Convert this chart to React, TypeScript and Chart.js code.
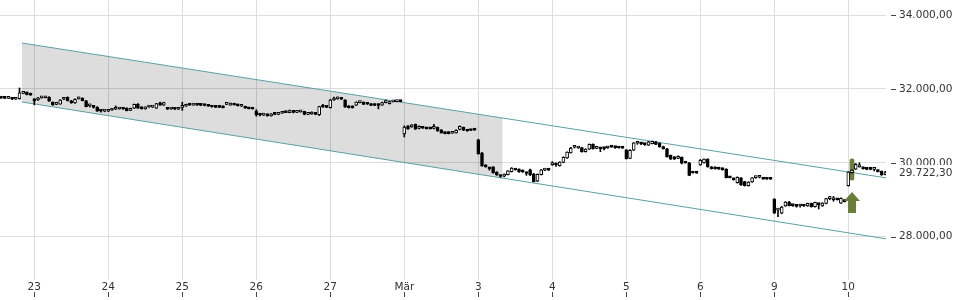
import React, { useEffect, useRef } from 'react';
import { Chart, registerables } from 'chart.js';

Chart.register(...registerables);

// ---- axis labels ----
const dayLabels = ['23', '24', '25', '26', '27', 'Mär', '3', '4', '5', '6', '9', '10'];
const dayStartIndex = [9, 29, 49, 69, 89, 109, 129, 149, 169, 189, 209, 229];
const priceTicks = [28000, 30000, 32000, 34000];
const lastPrice = 29722.3;

// ---- candles [open, high, low, close] ----
const feb20 = [
  [31755, 31765, 31745, 31750], [31760, 31765, 31740, 31745], [31745, 31790, 31740, 31755],
  [31770, 31775, 31710, 31720], [31720, 31755, 31715, 31740], [31735, 32025, 31720, 31895],
  [31880, 31925, 31870, 31915], [31915, 31920, 31835, 31845], [31870, 31885, 31825, 31830],
];
const feb23 = [
  [31730, 31740, 31570, 31680], [31700, 31770, 31690, 31755], [31755, 31790, 31745, 31760],
  [31760, 31800, 31755, 31770], [31775, 31790, 31660, 31670], [31640, 31650, 31555, 31565],
  [31580, 31610, 31570, 31590], [31590, 31710, 31585, 31700], [31720, 31760, 31710, 31740],
  [31770, 31785, 31670, 31680], [31680, 31690, 31610, 31620], [31620, 31730, 31610, 31720],
  [31730, 31780, 31725, 31745], [31750, 31760, 31675, 31680], [31680, 31690, 31510, 31520],
  [31540, 31590, 31510, 31560], [31520, 31530, 31480, 31500], [31510, 31520, 31390, 31400],
  [31410, 31420, 31370, 31395], [31400, 31430, 31380, 31420],
];
const feb24 = [
  [31395, 31445, 31385, 31430], [31430, 31450, 31420, 31445], [31450, 31540, 31440, 31460],
  [31455, 31475, 31450, 31465], [31465, 31470, 31445, 31455], [31480, 31490, 31405, 31410],
  [31420, 31480, 31410, 31475], [31480, 31590, 31470, 31580], [31590, 31600, 31475, 31480],
  [31510, 31520, 31455, 31460], [31460, 31515, 31450, 31510], [31510, 31545, 31500, 31520],
  [31505, 31525, 31495, 31515], [31480, 31610, 31470, 31600], [31620, 31640, 31555, 31560],
  [31560, 31640, 31550, 31630], [31480, 31490, 31440, 31450], [31455, 31470, 31445, 31460],
  [31460, 31470, 31440, 31450], [31450, 31465, 31440, 31455],
];
const feb25 = [
  [31500, 31640, 31420, 31520], [31530, 31590, 31525, 31540], [31565, 31575, 31555, 31560],
  [31560, 31575, 31555, 31565], [31565, 31570, 31550, 31560], [31560, 31565, 31545, 31555],
  [31555, 31560, 31540, 31550], [31560, 31580, 31525, 31530], [31540, 31550, 31505, 31510],
  [31520, 31550, 31495, 31500], [31520, 31525, 31495, 31500], [31510, 31540, 31485, 31490],
  [31580, 31590, 31575, 31585], [31560, 31620, 31555, 31570], [31570, 31610, 31560, 31565],
  [31550, 31590, 31535, 31540], [31530, 31560, 31525, 31540], [31520, 31530, 31475, 31480],
  [31470, 31480, 31455, 31460], [31460, 31470, 31450, 31455],
];
const feb26 = [
  [31400, 31440, 31260, 31300], [31300, 31320, 31270, 31290], [31290, 31340, 31280, 31300],
  [31320, 31330, 31260, 31270], [31270, 31330, 31260, 31320], [31320, 31330, 31300, 31310],
  [31310, 31330, 31300, 31325], [31340, 31370, 31335, 31365], [31365, 31375, 31355, 31360],
  [31360, 31430, 31355, 31370], [31380, 31390, 31350, 31365], [31365, 31410, 31360, 31375],
  [31380, 31390, 31370, 31385], [31390, 31395, 31300, 31310], [31310, 31330, 31300, 31320],
  [31320, 31380, 31310, 31330], [31330, 31340, 31300, 31310], [31300, 31530, 31280, 31520],
  [31560, 31580, 31500, 31510], [31505, 31515, 31495, 31500],
];
const feb27 = [
  [31490, 31720, 31480, 31700], [31700, 31780, 31690, 31720], [31730, 31780, 31720, 31750],
  [31760, 31770, 31710, 31720], [31700, 31710, 31500, 31510], [31540, 31550, 31480, 31490],
  [31530, 31540, 31480, 31490], [31560, 31650, 31550, 31640], [31630, 31670, 31620, 31640],
  [31640, 31650, 31575, 31580], [31590, 31600, 31580, 31585], [31590, 31600, 31545, 31550],
  [31590, 31600, 31545, 31550], [31590, 31600, 31460, 31550], [31560, 31640, 31550, 31630],
  [31630, 31700, 31620, 31640], [31600, 31670, 31590, 31660], [31650, 31665, 31645, 31655],
  [31655, 31670, 31650, 31660], [31660, 31670, 31650, 31655],
];
const mar02 = [
  [30780, 31000, 30700, 30970], [31000, 31010, 30905, 30915], [30970, 31035, 30960, 31025],
  [31040, 31050, 30900, 30910], [30930, 31000, 30920, 30940], [30940, 30950, 30930, 30935],
  [30950, 30960, 30915, 30920], [30945, 30955, 30915, 30920], [30930, 31040, 30920, 30940],
  [30960, 30970, 30850, 30860], [30890, 30900, 30800, 30810], [30830, 30840, 30780, 30790],
  [30830, 30840, 30780, 30790], [30800, 30815, 30795, 30805], [30810, 30890, 30800, 30880],
  [30900, 31000, 30890, 30990], [30960, 30970, 30870, 30880], [30890, 30900, 30850, 30860],
  [30880, 30890, 30870, 30875], [30890, 30900, 30880, 30885],
];
const mar03 = [
  [30620, 30640, 30230, 30240], [30260, 30280, 29900, 29915], [29940, 29950, 29880, 29890],
  [29860, 29880, 29800, 29840], [29890, 29900, 29720, 29725], [29750, 29760, 29660, 29670],
  [29650, 29670, 29610, 29630], [29640, 29700, 29620, 29690], [29680, 29790, 29670, 29780],
  [29760, 29870, 29750, 29860], [29810, 29820, 29800, 29805], [29830, 29840, 29740, 29760],
  [29800, 29810, 29740, 29750], [29720, 29740, 29660, 29710], [29810, 29830, 29650, 29680],
  [29700, 29710, 29480, 29490], [29500, 29700, 29490, 29690], [29680, 29820, 29670, 29810],
  [29800, 29810, 29790, 29805], [29810, 29820, 29795, 29800],
];
const mar04 = [
  [29950, 30030, 29930, 29960], [29950, 30000, 29900, 29940], [29920, 30030, 29910, 30020],
  [30010, 30160, 30000, 30150], [30130, 30300, 30120, 30290], [30270, 30420, 30260, 30400],
  [30420, 30460, 30400, 30430], [30400, 30410, 30390, 30405], [30410, 30420, 30290, 30300],
  [30300, 30380, 30290, 30370], [30370, 30510, 30360, 30500], [30500, 30510, 30370, 30380],
  [30390, 30400, 30380, 30395], [30390, 30400, 30300, 30380], [30390, 30410, 30350, 30385],
  [30400, 30450, 30390, 30410], [30430, 30440, 30420, 30425], [30420, 30430, 30390, 30410],
  [30410, 30420, 30395, 30400], [30400, 30410, 30390, 30395],
];
const mar05 = [
  [30350, 30360, 30100, 30110], [30120, 30360, 30110, 30340], [30340, 30550, 30330, 30540],
  [30530, 30560, 30500, 30535], [30520, 30530, 30490, 30510], [30500, 30510, 30470, 30490],
  [30480, 30580, 30470, 30570], [30520, 30590, 30510, 30580], [30570, 30580, 30490, 30500],
  [30530, 30540, 30420, 30430], [30440, 30450, 30370, 30380], [30380, 30390, 30150, 30160],
  [30200, 30210, 30090, 30100], [30160, 30170, 30090, 30100], [30120, 30190, 30110, 30130],
  [30150, 30160, 29970, 29990], [30000, 30010, 29990, 29995], [30000, 30010, 29650, 29660],
  [29730, 29740, 29720, 29725], [29725, 29735, 29715, 29720],
];
const mar06 = [
  [29940, 30090, 29930, 30070], [30000, 30110, 29990, 30100], [30100, 30110, 29880, 29890],
  [29890, 29900, 29830, 29840], [29880, 29890, 29830, 29840], [29870, 29880, 29820, 29830],
  [29860, 29870, 29800, 29810], [29830, 29840, 29590, 29600], [29600, 29610, 29590, 29595],
  [29580, 29590, 29530, 29540], [29460, 29620, 29450, 29610], [29590, 29600, 29390, 29400],
  [29490, 29500, 29370, 29380], [29380, 29490, 29370, 29480], [29480, 29600, 29470, 29590],
  [29600, 29640, 29580, 29610], [29610, 29650, 29590, 29615], [29570, 29580, 29555, 29560],
  [29565, 29575, 29550, 29560], [29560, 29570, 29550, 29555],
];
const mar09 = [
  [29020, 29030, 28630, 28640], [28720, 28740, 28540, 28730], [28640, 28820, 28620, 28800],
  [28830, 28950, 28820, 28940], [28940, 28960, 28830, 28840], [28850, 28860, 28820, 28840],
  [28830, 28840, 28800, 28820], [28830, 28880, 28800, 28840], [28840, 28850, 28820, 28830],
  [28830, 28910, 28820, 28900], [28900, 28910, 28800, 28810], [28810, 28940, 28800, 28930],
  [28880, 28900, 28750, 28870], [28830, 28920, 28820, 28910], [28900, 29040, 28890, 29030],
  [29030, 29090, 29000, 29040], [29000, 29090, 28960, 29010], [29010, 29020, 28990, 29000],
  [28910, 29050, 28900, 29040], [28990, 29000, 28940, 28950],
];
const mar10 = [
  [29380, 29760, 29370, 29750], [29730, 29810, 29720, 29800], [29830, 29980, 29820, 29960],
  [29890, 30000, 29880, 29900], [29880, 29890, 29830, 29840], [29830, 29840, 29810, 29820],
  [29830, 29840, 29810, 29820], [29820, 29870, 29780, 29830], [29800, 29810, 29750, 29760],
  [29770, 29780, 29660, 29670], [29680, 29770, 29670, 29722.3],
];

// ---- trend channel (x = candle index, y = price) ----
const channelX = [5.65, 239.4];
const channelUpper = [33242, 29589];
const channelLower = [31646, 27939];
const shadeX = [5.65, 135.6];
const shadeUpper = [33242, 31211];
const shadeLower = [31646, 29585];

// ---- signal marker ----
const markerIndex = 230;
const markerRange = [29530, 30105];
const arrowPrices = [29210, 28967, 28642]; // tip, head base, tail

const candles = [
  ...feb20, ...feb23, ...feb24, ...feb25, ...feb26, ...feb27,
  ...mar02, ...mar03, ...mar04, ...mar05, ...mar06, ...mar09, ...mar10,
];

const TEAL = '#5b9fa9';
const OLIVE = '#6b7d3a';
const GRID = '#dddddd';
const TEXT = '#333333';
const FONT = 'DejaVu Sans';

function fmtDE(v: number): string {
  const cents = Math.round(v * 100);
  const intPart = Math.floor(cents / 100).toString();
  const dec = (cents % 100).toString().padStart(2, '0');
  const withDots = intPart.replace(/\B(?=(\d{3})+(?!\d))/g, '.');
  return withDots + ',' + dec;
}

function zeroPadding(scale: any) {
  scale.paddingTop = 0;
  scale.paddingBottom = 0;
  scale.paddingLeft = 0;
  scale.paddingRight = 0;
}

const decorPlugin = {
  id: 'decor',
  afterDatasetsDraw(chart: any) {
    const { ctx, scales } = chart;
    const xs = scales.x;
    const ys = scales.y;
    const x = xs.getPixelForValue(markerIndex);
    const yTip = ys.getPixelForValue(arrowPrices[0]);
    const yBase = ys.getPixelForValue(arrowPrices[1]);
    const yTail = ys.getPixelForValue(arrowPrices[2]);
    ctx.save();
    ctx.fillStyle = OLIVE;
    ctx.beginPath();
    ctx.moveTo(x, yTip);
    ctx.lineTo(x + 8, yBase);
    ctx.lineTo(x + 4, yBase);
    ctx.lineTo(x + 4, yTail);
    ctx.lineTo(x - 4, yTail);
    ctx.lineTo(x - 4, yBase);
    ctx.lineTo(x - 8, yBase);
    ctx.closePath();
    ctx.fill();
    ctx.restore();
  },
  afterDraw(chart: any) {
    const { ctx, scales, chartArea } = chart;
    const xs = scales.x;
    const ys = scales.y;
    ctx.save();
    ctx.strokeStyle = '#444';
    ctx.lineWidth = 1;
    dayStartIndex.forEach((v) => {
      const px = Math.round(xs.getPixelForValue(v)) + 0.5;
      ctx.beginPath();
      ctx.moveTo(px, chartArea.bottom + 12);
      ctx.lineTo(px, chartArea.bottom + 17);
      ctx.stroke();
    });
    priceTicks.forEach((v) => {
      const py = Math.round(ys.getPixelForValue(v)) + 0.5;
      ctx.beginPath();
      ctx.moveTo(chartArea.right + 5, py);
      ctx.lineTo(chartArea.right + 10, py);
      ctx.stroke();
    });
    const py = ys.getPixelForValue(lastPrice);
    ctx.fillStyle = '#ffffff';
    ctx.fillRect(chartArea.right + 1, py - 8, chart.width - chartArea.right, 16);
    ctx.fillStyle = TEXT;
    ctx.font = `10.5px "${FONT}"`;
    ctx.textBaseline = 'middle';
    ctx.textAlign = 'left';
    ctx.fillText(fmtDE(lastPrice), chartArea.right + 13, py + 0.5);
    ctx.restore();
  },
};

export default function App() {
  const ref = useRef<HTMLCanvasElement | null>(null);

  useEffect(() => {
    document.body.style.margin = '0';
    const canvas = ref.current;
    if (!canvas) return;

    const wickData = candles.map((c, i) => ({ x: i, y: [c[2], c[1]] }));
    const bodyData = candles.map((c, i) => ({ x: i, y: [Math.min(c[0], c[3]), Math.max(c[0], c[3])] }));

    const chart = new Chart(canvas, {
      type: 'bar',
      data: {
        datasets: [
          {
            type: 'line',
            data: shadeX.map((x, i) => ({ x, y: shadeUpper[i] })),
            borderWidth: 0,
            pointRadius: 0,
            fill: '+1',
            backgroundColor: 'rgba(0,0,0,0.135)',
            order: 6,
          } as any,
          {
            type: 'line',
            data: shadeX.map((x, i) => ({ x, y: shadeLower[i] })),
            borderWidth: 0,
            pointRadius: 0,
            fill: false,
            order: 6,
          } as any,
          {
            type: 'line',
            data: channelX.map((x, i) => ({ x, y: channelUpper[i] })),
            borderColor: TEAL,
            borderWidth: 1,
            pointRadius: 0,
            fill: false,
            order: 4,
          } as any,
          {
            type: 'line',
            data: channelX.map((x, i) => ({ x, y: channelLower[i] })),
            borderColor: TEAL,
            borderWidth: 1,
            pointRadius: 0,
            fill: false,
            order: 4,
          } as any,
          {
            type: 'bar',
            data: [{ x: markerIndex, y: markerRange }],
            backgroundColor: OLIVE,
            barThickness: 4,
            borderRadius: 2,
            borderSkipped: false,
            grouped: false,
            order: 3,
          } as any,
          {
            type: 'bar',
            data: wickData,
            backgroundColor: '#000',
            barThickness: 1,
            grouped: false,
            order: 2,
          } as any,
          {
            type: 'bar',
            data: bodyData,
            backgroundColor: (ctx: any) => {
              const c = candles[ctx.dataIndex];
              return c && c[3] >= c[0] ? '#ffffff' : '#000000';
            },
            borderColor: '#000',
            borderWidth: 1,
            borderSkipped: false,
            barThickness: 3,
            minBarLength: 2,
            grouped: false,
            order: 1,
          } as any,
        ],
      },
      options: {
        animation: false,
        responsive: false,
        devicePixelRatio: 1,
        layout: { padding: 0 },
        plugins: {
          legend: { display: false },
          tooltip: { enabled: false },
        },
        scales: {
          x: {
            type: 'linear',
            offset: false,
            min: -0.27,
            max: 239.19,
            grid: { color: GRID, drawTicks: false, offset: false },
            border: { display: false },
            afterBuildTicks: (scale: any) => {
              scale.ticks = dayStartIndex.map((v) => ({ value: v }));
            },
            afterFit: (scale: any) => {
              scale.height = 20;
              zeroPadding(scale);
            },
            ticks: {
              autoSkip: false,
              maxRotation: 0,
              padding: 1,
              color: TEXT,
              font: { family: FONT, size: 10.5 },
              callback: (value: any) => {
                const k = dayStartIndex.indexOf(Number(value));
                return k >= 0 ? dayLabels[k] : '';
              },
            },
          },
          y: {
            type: 'linear',
            position: 'right',
            min: 26828,
            max: 34406,
            grid: { color: GRID, drawTicks: false },
            border: { display: false },
            afterBuildTicks: (scale: any) => {
              scale.ticks = priceTicks.map((v) => ({ value: v }));
            },
            afterFit: (scale: any) => {
              scale.width = 74;
              zeroPadding(scale);
            },
            ticks: {
              autoSkip: false,
              padding: 13,
              color: TEXT,
              font: { family: FONT, size: 10.5 },
              callback: (value: any) => fmtDE(Number(value)),
            },
          },
        },
      } as any,
      plugins: [decorPlugin],
    });

    return () => chart.destroy();
  }, []);

  return (
    <div style={{ position: 'absolute', left: 0, top: 0, width: 960, height: 300 }}>
      <canvas ref={ref} width={960} height={300} style={{ display: 'block' }} />
    </div>
  );
}
